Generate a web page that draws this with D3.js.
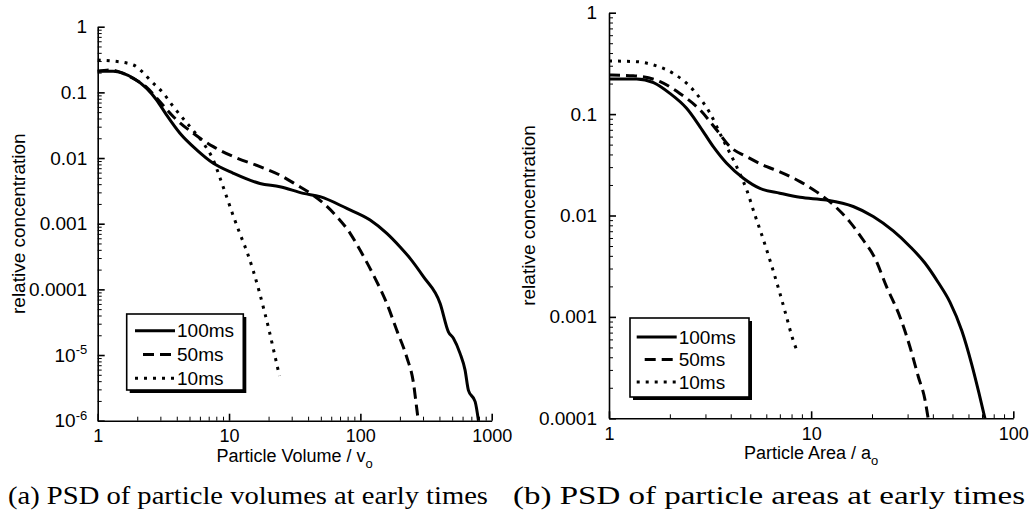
<!DOCTYPE html>
<meta charset="utf-8">
<script src="https://d3js.org/d3.v7.min.js"></script>
<style>
  body { margin: 0; background: #fff; }
  text { font-family: "Liberation Sans", Arial, sans-serif; fill: #000; }
  .cap { font-family: "Liberation Serif", "Times New Roman", serif; }
</style>
<body>
<script>

// ---- data ----
// panel (a): particle volume v / v_o  vs relative concentration
var vol100 = [[1,0.21],[1.31,0.21],[1.87,0.164],[2.36,0.115],[2.81,0.0765],[3.35,0.045],[4.23,0.0238],
  [5.67,0.0133],[7.59,0.0083],[10.8,0.00586],[17.2,0.0041],[24.4,0.00366],[36.8,0.0029],[49.3,0.00258],
  [78.8,0.00171],[118.6,0.00114],[159,0.000714],[200,0.000447],[239,0.000297],[302,0.000156],[405,6.1e-5],
  [468,2.26e-5],[511,1.8e-5],[574,1.06e-5],[627,5.9e-6],[665,2.9e-6],[748,1.95e-6],[793,1e-6]];
var vol50 = [[1,0.21],[1.24,0.22],[1.76,0.173],[2.36,0.119],[2.98,0.072],[3.77,0.0426],[5.34,0.0238],
  [7.59,0.0149],[10.8,0.0105],[17.2,0.0074],[24.4,0.0055],[32.7,0.0039],[41.6,0.0029],[52.3,0.00205],
  [66.3,0.00128],[83.6,0.000714],[99.2,0.0004],[125.6,1.66e-4],[159,6.1e-5],[189,2.4e-5],[225,9.4e-6],
  [254,3.7e-6],[268,1.6e-6],[276,1e-6]];
var vol10 = [[1,0.311],[1.31,0.30],[1.87,0.261],[2.16,0.21],[2.5,0.154],[3.16,0.0968],[3.77,0.0605],
  [5.04,0.030],[6.38,0.0168],[7.59,0.0093],[8.54,0.00497],[9.6,0.00255],[10.78,0.00131],[12.13,0.000697],
  [13.71,0.000371],[15.31,0.00019],[16.93,9.45e-5],[18.48,4.85e-5],[20.16,2.41e-5],[22.02,1.11e-5],
  [24.2,4.8e-6]];

// panel (b): particle area a / a_o  vs relative concentration
var area100 = [[1,0.222],[1.37,0.222],[1.66,0.204],[2.0,0.160],[2.42,0.114],[2.82,0.075],[3.28,0.0477],
  [3.82,0.0327],[4.62,0.0233],[5.58,0.0185],[7.0,0.0166],[8.81,0.0151],[11.9,0.0142],[16.15,0.01227],
  [20.28,0.00977],[25.47,0.00704],[30.81,0.00495],[36.54,0.0034],[42.38,0.00221],[48.59,0.0014],
  [55.69,0.000726],[62.41,0.000335],[67.6,0.000178],[72.4,1e-4]];
var area50 = [[1,0.243],[1.32,0.239],[1.79,0.209],[2.24,0.160],[2.82,0.11],[3.41,0.0697],[3.97,0.0477],
  [4.8,0.038],[6.03,0.0303],[7.0,0.027],[8.81,0.0216],[10.6,0.0172],[12.9,0.0127],[15.5,0.0087],
  [18.1,0.00573],[20.7,0.00378],[23.6,0.00199],[27.5,0.001],[30.8,0.000508],[33.9,0.000257],
  [36.6,0.000151],[37.9,1e-4]];
var area10 = [[1,0.334],[1.37,0.329],[1.66,0.305],[2.08,0.252],[2.61,0.173],[3.16,0.102],[3.67,0.0556],
  [4.28,0.0303],[4.8,0.01784],[5.27,0.01011],[5.81,0.00573],[6.36,0.00325],[6.93,0.00184],[7.51,0.001044],
  [8.08,0.000619],[8.54,0.000454]];

var seriesNames = ["100ms", "50ms", "10ms"];

var volXTicks = [1, 10, 100, 1000];
var volXLabels = ["1", "10", "100", "1000"];
var volYTicks = [1, 0.1, 0.01, 0.001, 0.0001, 1e-5, 1e-6];
var volYLabels = ["1", "0.1", "0.01", "0.001", "0.0001", "10^-5", "10^-6"];

var areaXTicks = [1, 10, 100];
var areaXLabels = ["1", "10", "100"];
var areaYTicks = [1, 0.1, 0.01, 0.001, 0.0001];
var areaYLabels = ["1", "0.1", "0.01", "0.001", "0.0001"];

var captions = ["(a) PSD of particle volumes at early times", "(b) PSD of particle areas at early times"];

// ---- drawing ----
var svg = d3.select("body").append("svg")
    .attr("width", 1034)
    .attr("height", 519);

var dashes = [null, "11,6", "3,6"];

function minorTicks(domain) {
  var lo = Math.min(domain[0], domain[1]), hi = Math.max(domain[0], domain[1]);
  var out = [];
  for (var d = lo; d < hi * 0.999; d *= 10)
    for (var k = 2; k < 10; k++) out.push(d * k);
  return out;
}

function setLabel(sel, s) {
  sel.text(null);
  var parts = s.split("^");
  sel.append("tspan").text(parts[0]);
  if (parts.length > 1)
    sel.append("tspan").attr("dy", "-0.55em").style("font-size", "13px").text(parts[1]);
}

function panel(o) {
  var x = d3.scaleLog().domain(o.xDomain).range([o.left, o.right]);
  var y = d3.scaleLog().domain(o.yDomain).range([o.bottom, o.top]);
  var g = svg.append("g");

  // minor ticks
  g.append("g")
    .attr("transform", "translate(0," + o.bottom + ")")
    .call(d3.axisBottom(x).tickValues(minorTicks(o.xDomain)).tickSize(-4).tickSizeOuter(0).tickFormat(""))
    .call(function(a) { a.select(".domain").remove(); });
  g.append("g")
    .attr("transform", "translate(" + o.left + ",0)")
    .call(d3.axisLeft(y).tickValues(minorTicks(o.yDomain)).tickSize(-4).tickSizeOuter(0).tickFormat(""))
    .call(function(a) { a.select(".domain").remove(); });

  // major ticks + labels
  var xa = g.append("g")
    .attr("transform", "translate(0," + o.bottom + ")")
    .call(d3.axisBottom(x).tickValues(o.xTicks).tickSize(-7).tickSizeOuter(0).tickPadding(9)
      .tickFormat(function(d, i) { return o.xLabels[i]; }));
  var ya = g.append("g")
    .attr("transform", "translate(" + o.left + ",0)")
    .call(d3.axisLeft(y).tickValues(o.yTicks).tickSize(-7).tickSizeOuter(0).tickPadding(o.yPad)
      .tickFormat(function(d, i) { return o.yLabels[i]; }));
  ya.selectAll(".tick text").each(function(d, i) { setLabel(d3.select(this), o.yLabels[i]); });

  xa.selectAll("text").style("font-size", "18px");
  ya.selectAll("text").style("font-size", "19px");
  [xa, ya].forEach(function(a) {
    a.selectAll("line, path").attr("stroke", "#000").attr("stroke-width", 1.6);
  });

  // curves
  var line = d3.line()
    .x(function(d) { return x(d[0]); })
    .y(function(d) { return y(d[1]); })
    .curve(d3.curveMonotoneX);
  o.series.forEach(function(s, i) {
    g.append("path")
      .datum(s)
      .attr("fill", "none")
      .attr("stroke", "#000")
      .attr("stroke-width", 3)
      .attr("stroke-dasharray", dashes[i])
      .attr("d", line);
  });

  // axis titles
  var xt = g.append("text")
    .attr("x", (o.left + o.right) / 2)
    .attr("y", o.bottom + 41)
    .attr("text-anchor", "middle")
    .style("font-size", "18px");
  xt.append("tspan").text(o.xTitle);
  xt.append("tspan").attr("dy", "0.45em").style("font-size", "13px").text("o");

  g.append("text")
    .attr("transform", "translate(" + o.yTitleX + "," + (o.top + o.bottom) / 2 + ") rotate(-90)")
    .attr("text-anchor", "middle")
    .style("font-size", "19px")
    .text("relative concentration");

  // legend
  var L = o.legend;
  var lg = g.append("g").attr("transform", "translate(" + L.x + "," + L.y + ")");
  lg.append("rect").attr("x", 3).attr("y", 3).attr("width", L.w).attr("height", L.h).attr("fill", "#000");
  lg.append("rect").attr("width", L.w).attr("height", L.h)
    .attr("fill", "#fff").attr("stroke", "#000").attr("stroke-width", 1.6);
  seriesNames.forEach(function(name, i) {
    var ry = L.row0 + i * L.rowH;
    lg.append("line")
      .attr("x1", i === 1 ? L.lineX0 + 8 : L.lineX0).attr("x2", L.lineX1)
      .attr("y1", ry).attr("y2", ry)
      .attr("stroke", "#000").attr("stroke-width", 3)
      .attr("stroke-dasharray", dashes[i]);
    lg.append("text")
      .attr("x", L.lineX1 + 2)
      .attr("y", ry)
      .attr("dy", "0.35em")
      .style("font-size", "19px")
      .text(name);
  });

  svg.append("text")
    .attr("class", "cap")
    .attr("x", o.capX)
    .attr("y", 504)
    .attr("textLength", o.capW)
    .attr("lengthAdjust", "spacingAndGlyphs")
    .style("font-size", "25px")
    .text(o.caption);
}

panel({
  xDomain: [1, 1000], yDomain: [1e-6, 1],
  left: 97.7, right: 491.7, top: 26.7, bottom: 420.7,
  xTicks: volXTicks, xLabels: volXLabels, yTicks: volYTicks, yLabels: volYLabels,
  yPad: 10.5,
  series: [vol100, vol50, vol10],
  xTitle: "Particle Volume / v",
  yTitleX: 25,
  legend: {x: 126.7, y: 314, w: 116.6, h: 76, row0: 16.7, rowH: 23.8, lineX0: 8.3, lineX1: 48.3},
  caption: captions[0], capX: 8, capW: 480
});

panel({
  xDomain: [1, 100], yDomain: [1e-4, 1],
  left: 609, right: 1013.3, top: 12.7, bottom: 418.3,
  xTicks: areaXTicks, xLabels: areaXLabels, yTicks: areaYTicks, yLabels: areaYLabels,
  yPad: 12,
  series: [area100, area50, area10],
  xTitle: "Particle Area / a",
  yTitleX: 535,
  legend: {x: 630, y: 318, w: 119, h: 79, row0: 19, rowH: 22.5, lineX0: 6.7, lineX1: 46.7},
  caption: captions[1], capX: 513, capW: 512
});

</script>
</body>
